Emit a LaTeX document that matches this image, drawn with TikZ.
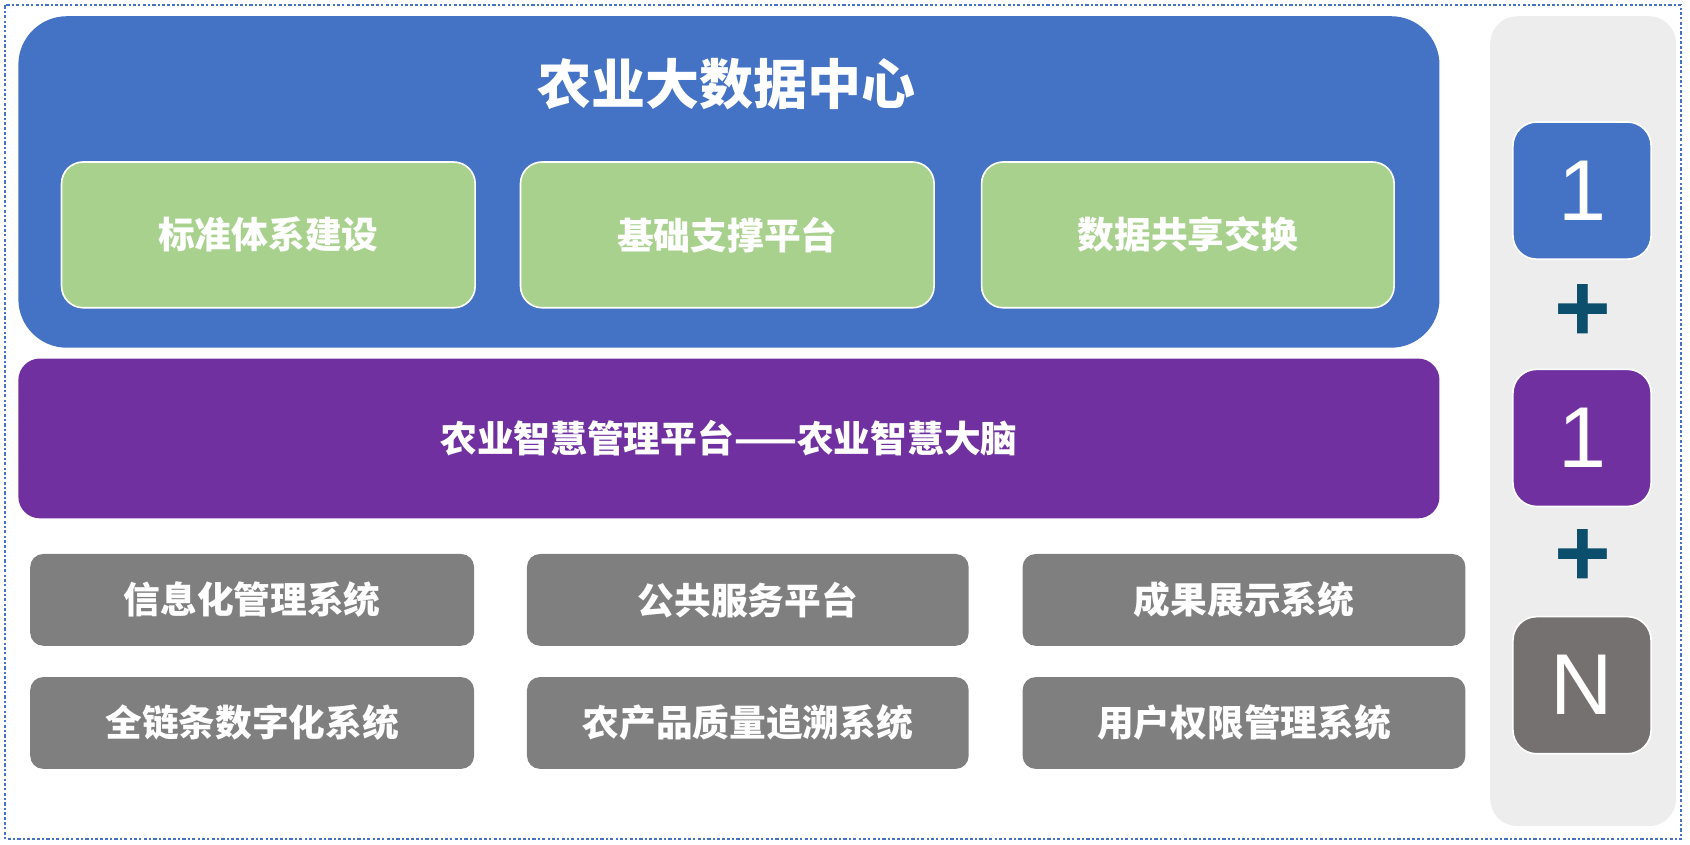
\documentclass[tikz,border=0pt]{standalone}
\usepackage{fontspec}
\setmainfont{Noto Sans CJK SC}
\newfontfamily\numfont{Liberation Sans}
\definecolor{cblue}{HTML}{4472C4}
\definecolor{cgreen}{HTML}{A9D18E}
\definecolor{cpurple}{HTML}{7030A0}
\definecolor{cgray}{HTML}{7F7F7F}
\definecolor{cngray}{HTML}{767171}
\definecolor{cpanel}{HTML}{EDEDED}
\definecolor{cplus}{HTML}{0B4F6C}
\begin{document}
\begin{tikzpicture}[x=1pt,y=-1pt,
  box/.style={draw=white,line width=1.5pt,text=white,font=\bfseries},
  gbox/.style={box,fill=cgreen,rounded corners=20pt,font=\bfseries\fontsize{34}{40}\selectfont},
  sbox/.style={box,fill=cgray,draw=none,rounded corners=12pt,font=\bfseries\fontsize{34}{40}\selectfont},
  nbox/.style={box,rounded corners=22pt,font=\numfont\fontsize{80}{90}\selectfont},
  plus/.style={text=cplus,font=\numfont\bfseries\fontsize{90}{90}\selectfont}]
\useasboundingbox (0,0) rectangle (1565,782);
\draw[cblue,line width=2pt,dash dot] (5,5) rectangle (1557,777);
\draw[fill=cpanel,draw=none,rounded corners=25pt] (1380,15) rectangle (1552,765);
\draw[fill=cblue,draw=none,rounded corners=45pt] (17,15) rectangle (1333,322);
\node[text=white,font=\bfseries\fontsize{50}{56}\selectfont] (t) at (673,78) {农业大数据中心};
\draw[gbox] (57,150) rectangle (440,285) node[midway] (g1) {标准体系建设};
\draw[gbox] (482,150) rectangle (865,285) node[midway] (g2) {基础支撑平台};
\draw[gbox] (909,150) rectangle (1291,285) node[midway] (g3) {数据共享交换};
\draw[fill=cpurple,draw=none,rounded corners=20pt] (17,332) rectangle (1333,480) node[midway,text=white,font=\bfseries\fontsize{34}{40}\selectfont] (p) {农业智慧管理平台——农业智慧大脑};
\draw[sbox] (28,513) rectangle (439,598) node[midway] (s1) {信息化管理系统};
\draw[sbox] (488,513) rectangle (897,598) node[midway] (s2) {公共服务平台};
\draw[sbox] (947,513) rectangle (1357,598) node[midway] (s3) {成果展示系统};
\draw[sbox] (28,627) rectangle (439,712) node[midway] (s4) {全链条数字化系统};
\draw[sbox] (488,627) rectangle (897,712) node[midway] (s5) {农产品质量追溯系统};
\draw[sbox] (947,627) rectangle (1357,712) node[midway] (s6) {用户权限管理系统};
\draw[nbox,fill=cblue] (1401,113) rectangle (1529,240) node[midway] (n1) {1};
\draw[nbox,fill=cpurple] (1401,342) rectangle (1529,469) node[midway] (n2) {1};
\draw[nbox,fill=cngray] (1401,571) rectangle (1529,698) node[midway] (n3) {N};
\node[plus] (pl1) at (1466,290) {+};
\node[plus] (pl2) at (1466,517) {+};
\end{tikzpicture}
\end{document}
